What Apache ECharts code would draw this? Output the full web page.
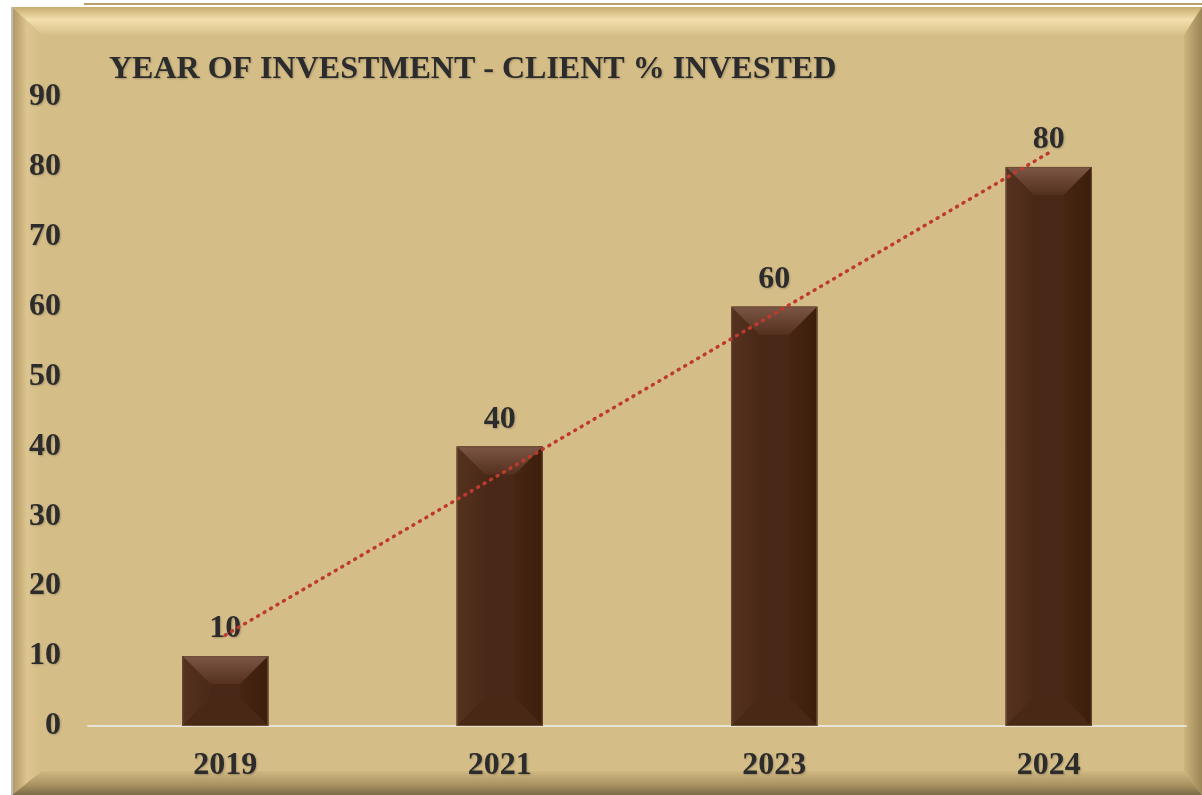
<!DOCTYPE html>
<html>
<head>
<meta charset="utf-8">
<script src="https://cdn.jsdelivr.net/npm/echarts@6/dist/echarts.min.js"></script>
<style>html,body{margin:0;padding:0;background:#fff;}#c{width:1202px;height:795px;}</style>
</head>
<body>
<div id="c"></div>
<script>
const categories = ['2019', '2021', '2023', '2024'];
const investedValues = [10, 40, 60, 80];
const trendValues = [13, 36, 59, 82];
const yTicks = [0, 10, 20, 30, 40, 50, 60, 70, 80, 90];
const titleText = 'YEAR OF INVESTMENT - CLIENT % INVESTED';

const chart = echarts.init(document.getElementById('c'), null, {renderer: 'canvas'});
const FONT = '"Liberation Serif", "Times New Roman", serif';
const TXT = '#2C2C2C';
const BAR_W = 86;
const FS = 32;

function lin(x0, y0, x1, y1, stops) {
  return new echarts.graphic.LinearGradient(x0, y0, x1, y1, stops);
}

function renderBevel(params, api) {
  const top = api.coord([api.value(0), api.value(1)]);
  const bot = api.coord([api.value(0), 0]);
  const cx = top[0];
  const x0 = cx - BAR_W / 2, x1 = cx + BAR_W / 2, y0 = top[1], y1 = bot[1];
  const h = y1 - y0;
  const b = Math.min(28, h / 2, BAR_W / 2);
  return {
    type: 'group',
    children: [
      {type: 'rect', shape: {x: x0, y: y0, width: BAR_W, height: h}, style: {fill: '#4A2818'}},
      {type: 'polygon', shape: {points: [[x0, y0], [x1, y0], [x1 - b, y0 + b], [x0 + b, y0 + b]]},
        style: {fill: lin(0, 0, 0, 1, [{offset: 0, color: '#7C5646'}, {offset: 1, color: '#54301E'}])}},
      {type: 'polygon', shape: {points: [[x0, y0], [x0 + b, y0 + b], [x0 + b, y1 - b], [x0, y1]]},
        style: {fill: lin(0, 0, 1, 0, [{offset: 0, color: '#553220'}, {offset: 1, color: '#4B2918'}])}},
      {type: 'polygon', shape: {points: [[x1, y0], [x1, y1], [x1 - b, y1 - b], [x1 - b, y0 + b]]},
        style: {fill: lin(0, 0, 1, 0, [{offset: 0, color: '#472511'}, {offset: 1, color: '#3C1E0D'}])}},
      {type: 'polygon', shape: {points: [[x0, y1], [x0 + b, y1 - b], [x1 - b, y1 - b], [x1, y1]]},
        style: {fill: '#4A2816'}},
      {type: 'rect', shape: {x: x0 + 0.5, y: y0 + 0.5, width: BAR_W - 1, height: h - 1}, style: {fill: 'none', stroke: '#6E4C34', lineWidth: 1}}
    ]
  };
}

// frame geometry
const FX0 = 12, FY0 = 7, FX1 = 1202, FY1 = 795;
const BT = 28, BL = 30, BR = 18, BB = 24;

const textFx = {textShadowColor: 'rgba(0,0,0,0.22)', textShadowBlur: 2, textShadowOffsetX: 1, textShadowOffsetY: 1};

const option = {
  animation: false,
  backgroundColor: '#ffffff',
  graphic: [
    {type: 'rect', z: -10, shape: {x: FX0, y: FY0, width: FX1 - FX0, height: FY1 - FY0}, style: {fill: '#D5BD87'}},
    {type: 'polygon', z: -9, shape: {points: [[FX0, FY0], [FX1, FY0], [FX1 - BR, FY0 + BT], [FX0 + BL, FY0 + BT]]},
      style: {fill: lin(0, 0, 0, 1, [{offset: 0, color: '#C8AC70'}, {offset: 0.45, color: '#F2DFAB'}, {offset: 1, color: '#D8C08A'}])}},
    {type: 'polygon', z: -9, shape: {points: [[FX0, FY0], [FX0 + BL, FY0 + BT], [FX0 + BL, FY1 - BB], [FX0, FY1]]},
      style: {fill: lin(0, 0, 1, 0, [{offset: 0, color: '#B0955E'}, {offset: 0.5, color: '#DCC590'}, {offset: 1, color: '#D5BD87'}])}},
    {type: 'polygon', z: -9, shape: {points: [[FX1, FY0], [FX1, FY1], [FX1 - BR, FY1 - BB], [FX1 - BR, FY0 + BT]]},
      style: {fill: lin(0, 0, 1, 0, [{offset: 0, color: '#CDB47E'}, {offset: 1, color: '#9C8656'}])}},
    {type: 'polygon', z: -9, shape: {points: [[FX0, FY1], [FX0 + BL, FY1 - BB], [FX1 - BR, FY1 - BB], [FX1, FY1]]},
      style: {fill: lin(0, 0, 0, 1, [{offset: 0, color: '#D0B882'}, {offset: 0.6, color: '#A8915F'}, {offset: 1, color: '#7C6A48'}])}},
    {type: 'line', z: -8, shape: {x1: FX0, y1: FY0, x2: FX0, y2: FY1}, style: {stroke: '#BDBDBD', lineWidth: 2}},
    {type: 'line', z: -8, shape: {x1: 84, y1: 4, x2: FX1, y2: 4}, style: {stroke: '#B8A068', lineWidth: 2}}
  ],
  title: {
    text: titleText,
    left: 104,
    top: 49,
    textStyle: Object.assign({fontFamily: FONT, fontWeight: 'bold', fontSize: FS, color: TXT}, textFx)
  },
  grid: {left: 88, right: 16, top: 97, bottom: 69, containLabel: false},
  xAxis: {
    type: 'category',
    data: categories,
    axisLine: {show: true, lineStyle: {color: '#E6E2D6', width: 2}},
    axisTick: {show: false},
    axisLabel: Object.assign({margin: 24, fontFamily: FONT, fontWeight: 'bold', fontSize: FS, color: TXT}, textFx)
  },
  yAxis: {
    type: 'value',
    min: yTicks[0],
    max: yTicks[yTicks.length - 1],
    interval: 10,
    splitLine: {show: false},
    axisLine: {show: false},
    axisTick: {show: false},
    axisLabel: Object.assign({margin: 27, fontFamily: FONT, fontWeight: 'bold', fontSize: FS, color: TXT}, textFx)
  },
  series: [
    {
      type: 'bar',
      data: investedValues,
      barWidth: BAR_W,
      z: 2,
      itemStyle: {color: '#4A2818'},
      label: Object.assign({show: true, position: 'top', distance: 11,
        fontFamily: FONT, fontWeight: 'bold', fontSize: FS, color: TXT}, textFx)
    },
    {
      type: 'custom',
      z: 3,
      renderItem: renderBevel,
      data: investedValues.map((v, i) => [i, v]),
      encode: {x: 0, y: 1},
      silent: true
    },
    {
      type: 'line',
      z: 5,
      data: trendValues,
      symbol: 'none',
      lineStyle: {color: '#BE3A2E', width: 3.5, type: [1, 6.5], cap: 'round'},
      silent: true
    }
  ]
};
chart.setOption(option);
</script>
</body>
</html>
